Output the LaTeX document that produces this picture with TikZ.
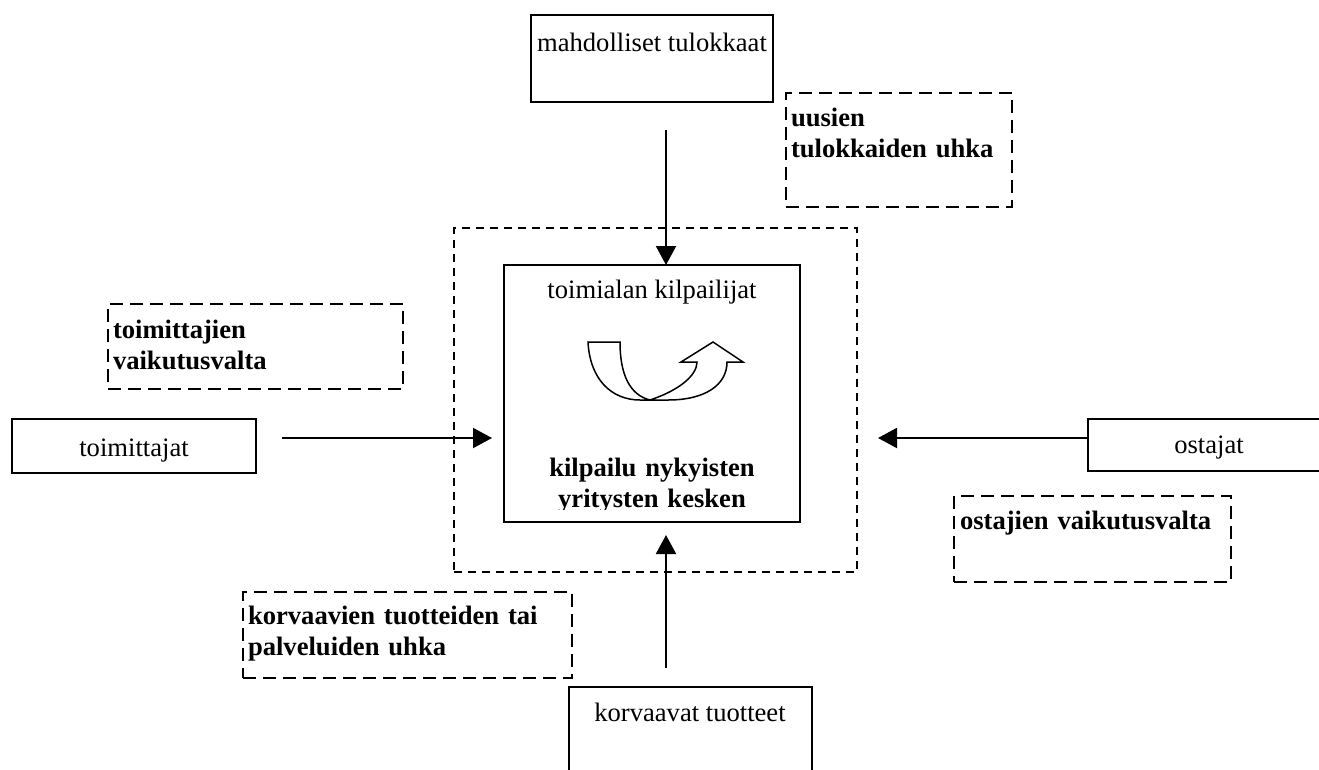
\documentclass[tikz,border=0pt]{standalone}
\usepackage{fontspec}
\setmainfont{Liberation Serif}
\usetikzlibrary{arrows.meta}
\begin{document}
\begin{tikzpicture}[x=1pt,y=-1pt,
  every node/.style={inner sep=0pt, outer sep=0pt},
  solidbox/.style={draw, line width=2pt, rectangle},
  threatbox/.style={draw, line width=2pt, dash pattern=on 13pt off 7pt},
  rivalrybox/.style={draw, line width=1.6pt, dash pattern=on 8pt off 6pt},
  lbl/.style={font=\fontsize{26.6}{31}\selectfont},
  blbl/.style={font=\fontsize{26.6}{31}\selectfont\bfseries, align=left},
  force/.style={line width=2pt, -{Triangle[length=19pt,width=20pt]}},
]
\useasboundingbox (0,0) rectangle (1319,769);
\clip (0,0) rectangle (1319,769);

% --- boxes of the five forces ---
\node[solidbox, minimum width=242pt, minimum height=87pt]  (entrants)  at (652,58.5)   {};
\node[solidbox, minimum width=244pt, minimum height=54pt]  (suppliers) at (134,446)    {};
\node[solidbox, minimum width=243pt, minimum height=52pt]  (buyers)    at (1209.5,445) {};
\node[solidbox, minimum width=243pt, minimum height=103pt] (substitutes) at (690.5,738.5) {};
\node[rivalrybox, minimum width=403pt, minimum height=344pt] (rivalry) at (655.5,400) {};
\node[solidbox, minimum width=296pt, minimum height=257pt] (core) at (652,393.5) {};

% --- dashed boxes naming each pressure ---
\node[threatbox, minimum width=226pt, minimum height=114pt] (entryThreat) at (899,150)     {};
\node[threatbox, minimum width=295pt, minimum height=85pt]  (supplierPower) at (255.5,346.5) {};
\node[threatbox, minimum width=277pt, minimum height=86pt]  (buyerPower) at (1092.5,539) {};
\node[threatbox, minimum width=329pt, minimum height=86pt]  (substThreat) at (407.5,635) {};

% --- texts ---
\node[lbl, anchor=base] (entrantsText)    at (652,51)   {mahdolliset tulokkaat};
\node[lbl, anchor=base] (suppliersText)   at (134,456)  {toimittajat};
\node[lbl, anchor=base] (buyersText)      at (1209,453) {ostajat};
\node[lbl, anchor=base] (substitutesText) at (690,721)  {korvaavat tuotteet};
\node[lbl, anchor=base] (coreTitle)       at (652,298)  {toimialan kilpailijat};

\node[blbl, anchor=base west, text width=220pt] (entryThreatText)   at (791,126) {uusien\\tulokkaiden uhka};
\node[blbl, anchor=base west, text width=290pt] (supplierPowerText) at (113,338) {toimittajien\\vaikutusvalta};
\node[blbl, anchor=base west, text width=270pt] (buyerPowerText)    at (960,529) {ostajien vaikutusvalta};
\node[blbl, anchor=base west, text width=322pt] (substThreatText)   at (248,624) {korvaavien tuotteiden tai\\palveluiden uhka};

\begin{scope}
  \clip (505,440) rectangle (799,509);
  \node[blbl, align=center, text width=290pt, anchor=base] (coreText) at (652,476)
    {kilpailu nykyisten\\yritysten kesken};
\end{scope}

% --- U-turn arrow inside the core box ---
\draw[line width=1.5pt, line join=miter]
  (588,342) .. controls (590,380) and (612,400) .. (640,400)
  -- (668,400) .. controls (705,400) and (727,385) .. (727,362)
  -- (743,362) -- (713,342) -- (681,362) -- (697,362)
  .. controls (697,375) and (680,390) .. (650,400)
  .. controls (630,395) and (620,375) .. (620,342) -- cycle;

% --- arrows pointing at the core ---
\coordinate (fromTop)    at (666,130);
\coordinate (fromLeft)   at (282,438);
\coordinate (toLeft)     at (492,438);
\coordinate (fromRight)  at (buyers.west |- fromLeft);
\coordinate (toRight)    at (878,438);
\coordinate (fromBottom) at (666,668);
\coordinate (toBottom)   at (666,535);

\draw[force] (fromTop) -- (fromTop |- core.north);
\draw[force] (fromLeft) -- (toLeft);
\draw[force] (fromRight) -- (toRight);
\draw[force] (fromBottom) -- (toBottom);
\end{tikzpicture}
\end{document}
